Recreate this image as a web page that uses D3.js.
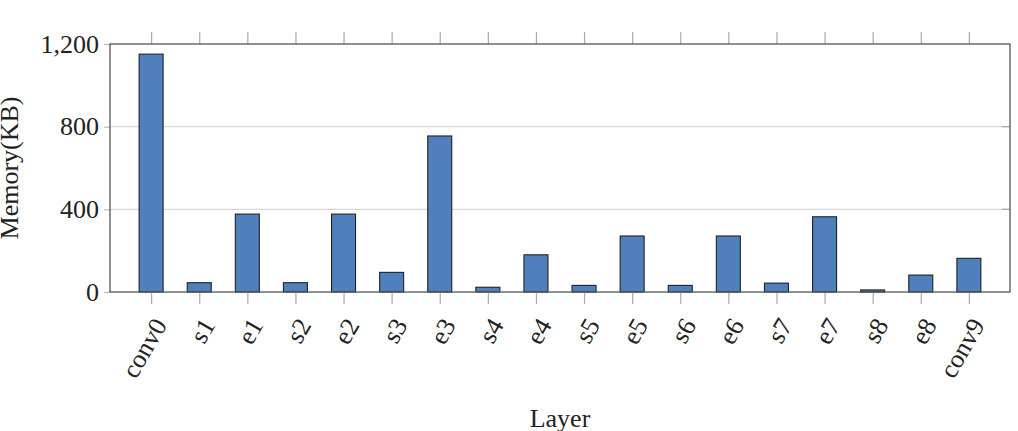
<!DOCTYPE html>
<html>
<head>
<meta charset="utf-8">
<script src="https://cdn.jsdelivr.net/npm/d3@7"></script>
<style>
  body { margin: 0; background: #fff; }
  svg { display: block; }
  svg text { font-family: 'Liberation Serif', 'DejaVu Serif', serif; }
</style>
</head>
<body>
<div id="chart"></div>
<script>
// Memory per layer (KB)
const layers = ['conv0', 's1', 'e1', 's2', 'e2', 's3', 'e3', 's4', 'e4', 's5', 'e5', 's6', 'e6', 's7', 'e7', 's8', 'e8', 'conv9']
const memory = [1151, 45, 377, 45, 377, 95, 755, 23, 180, 32, 271, 32, 271, 43, 364, 10, 82, 163]
const yTicks = [0, 400, 800, 1200]

const width = 1018
const height = 431
const margin = { top: 44, right: 8, bottom: 139, left: 110 }
const innerWidth = width - margin.left - margin.right
const innerHeight = height - margin.top - margin.bottom
const fontSize = 26

const svg = d3
  .select('#chart')
  .append('svg')
  .attr('width', width)
  .attr('height', height)

const g = svg
  .append('g')
  .attr('transform', `translate(${margin.left},${margin.top})`)

// Scales
const x = d3.scalePoint().domain(layers).range([0, innerWidth]).padding(0.855)
const y = d3.scaleLinear().domain([0, 1200]).range([innerHeight, 0])
const barWidth = 24

// Grid lines
g.append('g')
  .selectAll('line')
  .data(yTicks.filter((d) => d > 0 && d < 1200))
  .join('line')
  .attr('x1', 0)
  .attr('x2', innerWidth)
  .attr('y1', (d) => y(d))
  .attr('y2', (d) => y(d))
  .attr('stroke', '#d8d8d8')
  .attr('stroke-width', 1.2)

// Bars
g.append('g')
  .selectAll('rect')
  .data(layers.map((l, i) => ({ layer: l, value: memory[i] })))
  .join('rect')
  .attr('x', (d) => x(d.layer) - barWidth / 2)
  .attr('y', (d) => y(d.value))
  .attr('width', barWidth)
  .attr('height', (d) => innerHeight - y(d.value))
  .attr('fill', '#4f7fbd')
  .attr('stroke', '#222')
  .attr('stroke-width', 1.1)

// Bottom axis (ticks below frame)
const xAxis = g
  .append('g')
  .attr('transform', `translate(0,${innerHeight})`)
  .call(d3.axisBottom(x).tickSize(12).tickSizeOuter(0).tickPadding(0))
xAxis.attr('font-family', null)
xAxis.select('.domain').remove()
xAxis.selectAll('line').attr('stroke', '#aaa').attr('stroke-width', 1.2)
xAxis
  .selectAll('text')
  .attr('font-size', fontSize)
  .attr('fill', '#222')
  .attr('text-anchor', 'end')
  .attr('dy', null)
  .attr('y', 0)
  .attr('transform', 'translate(11,30) rotate(-60)')
  .attr('dominant-baseline', 'middle')

// Top axis (ticks above frame)
const xTop = g
  .append('g')
  .call(d3.axisTop(x).tickSize(12).tickSizeOuter(0).tickFormat(''))
xTop.select('.domain').remove()
xTop.selectAll('line').attr('stroke', '#aaa').attr('stroke-width', 1.2)

// Left axis
const yAxis = g
  .append('g')
  .call(
    d3
      .axisLeft(y)
      .tickValues(yTicks)
      .tickSize(6)
      .tickSizeOuter(0)
      .tickPadding(5)
      .tickFormat(d3.format(','))
  )
yAxis.attr('font-family', null)
yAxis.select('.domain').remove()
yAxis.selectAll('line').attr('stroke', '#bbb').attr('stroke-width', 1.2)
yAxis.selectAll('text').attr('font-size', fontSize).attr('fill', '#222')

// Right side small inner ticks
g.append('g')
  .selectAll('line')
  .data(yTicks.filter((d) => d > 0 && d < 1200))
  .join('line')
  .attr('x1', innerWidth - 8)
  .attr('x2', innerWidth)
  .attr('y1', (d) => y(d))
  .attr('y2', (d) => y(d))
  .attr('stroke', '#aaa')
  .attr('stroke-width', 1.2)

// Frame
g.append('rect')
  .attr('x', 0)
  .attr('y', 0)
  .attr('width', innerWidth)
  .attr('height', innerHeight)
  .attr('fill', 'none')
  .attr('stroke', '#555')
  .attr('stroke-width', 1.3)

// Axis labels
svg
  .append('text')
  .attr('x', margin.left + innerWidth / 2)
  .attr('y', 427)
  .attr('text-anchor', 'middle')
  .attr('font-size', fontSize)
  .attr('fill', '#222')
  .text('Layer')

svg
  .append('text')
  .attr('transform', `translate(18,${margin.top + innerHeight / 2}) rotate(-90)`)
  .attr('text-anchor', 'middle')
  .attr('font-size', fontSize)
  .attr('fill', '#222')
  .text('Memory(KB)')
</script>
</body>
</html>
